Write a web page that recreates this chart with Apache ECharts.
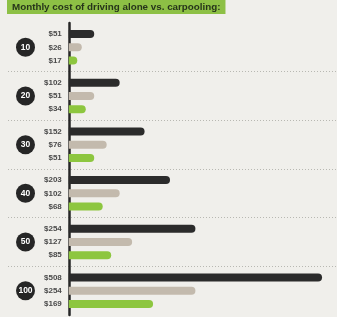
<!DOCTYPE html>
<html>
<head>
<meta charset="utf-8">
<script src="https://cdn.jsdelivr.net/npm/echarts@6/dist/echarts.min.js"></script>
<style>
  html, body { margin: 0; padding: 0; background: #f0efeb; }
  #chart { width: 337px; height: 317px; }
</style>
</head>
<body>
<div id="chart"></div>
<script>
// miles driven per day
const miles = ['10', '20', '30', '40', '50', '100'];
// monthly cost: alone, 2 people, 3 people
const aloneCost = [51, 102, 152, 203, 254, 508];
const twoCost = [26, 51, 76, 102, 127, 254];
const threeCost = [17, 34, 51, 68, 85, 169];

const colors = ['#2b2b2b', '#c3baad', '#8dc63f'];

function barSeries(data, color) {
    return {
        type: 'bar',
        data: data,
        barWidth: 8,
        barGap: '66%',
        itemStyle: { color: color, borderRadius: [0, 4, 4, 0] },
        label: {
            show: true,
            position: 'left',
            distance: 7,
            formatter: '${c}',
            color: '#4a4a4a',
            fontSize: 8,
            fontWeight: 'bold',
            fontFamily: 'Liberation Sans'
        }
    };
}

const chart = echarts.init(document.getElementById('chart'));
chart.setOption({
    backgroundColor: '#f0efeb',
    animation: false,
    title: {
        text: 'Monthly cost of driving alone vs. carpooling:',
        left: 7,
        top: 0,
        padding: [2, 5, 2, 5],
        backgroundColor: '#8dc045',
        textStyle: {
            color: '#26341a',
            fontSize: 9.8,
            fontWeight: 'bold',
            fontFamily: 'Liberation Sans'
        }
    },
    // v6 grid would otherwise shrink to fit the axis labels
    grid: { left: 8, right: 0, top: 23, bottom: 2, containLabel: false, outerBoundsMode: 'none' },
    xAxis: {
        type: 'value',
        min: -122,
        max: 538,
        show: false
    },
    yAxis: {
        type: 'category',
        data: miles,
        inverse: true,
        axisLine: { show: true, onZero: true, lineStyle: { color: '#262626', width: 2.5 } },
        axisTick: { show: false },
        splitLine: {
            show: true,
            showMinLine: false,
            showMaxLine: false,
            lineStyle: { color: '#b8b8b2', type: [1, 2], width: 1 }
        },
        axisLabel: {
            margin: -27,
            formatter: function (v) { return '{c|' + v + '}'; },
            rich: {
                c: {
                    width: 19,
                    height: 19,
                    lineHeight: 19,
                    borderRadius: 10,
                    backgroundColor: '#262626',
                    color: '#ffffff',
                    align: 'center',
                    fontSize: 8.5,
                    fontWeight: 'bold',
                    fontFamily: 'Liberation Sans'
                }
            }
        }
    },
    series: [
        barSeries(aloneCost, colors[0]),
        barSeries(twoCost, colors[1]),
        barSeries(threeCost, colors[2])
    ]
});
</script>
</body>
</html>
